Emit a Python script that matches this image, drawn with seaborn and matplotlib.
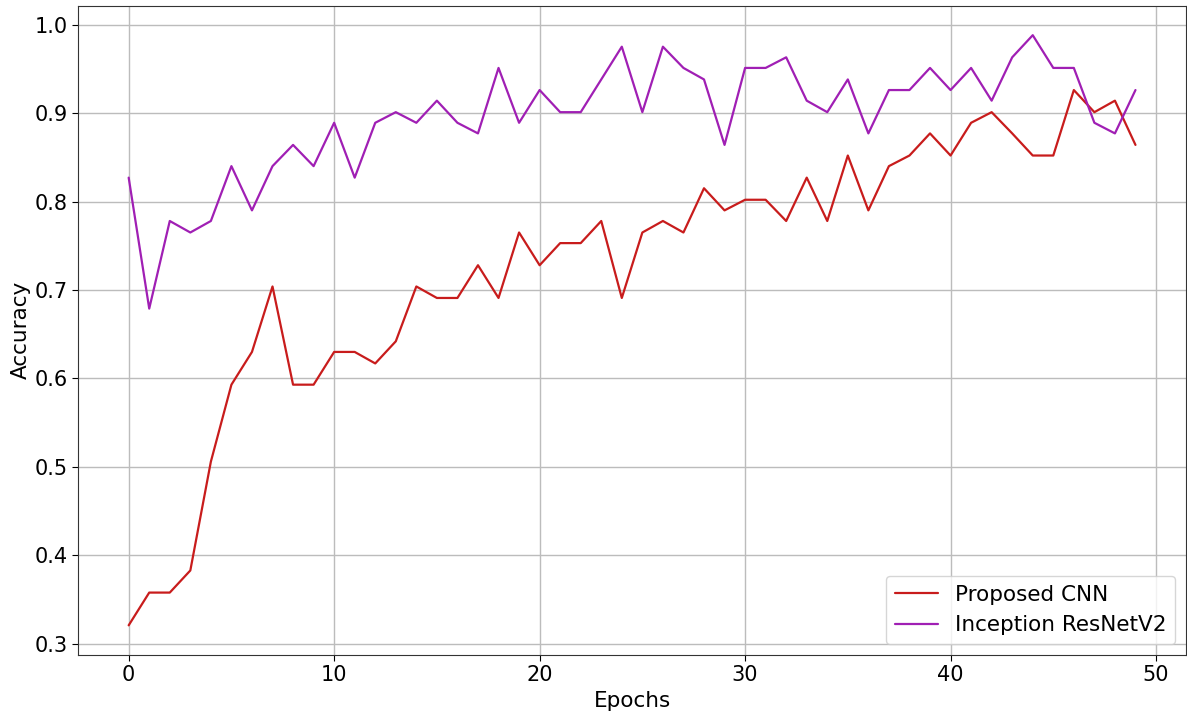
import numpy as np
import pandas as pd
import matplotlib
matplotlib.use("Agg")
import matplotlib.pyplot as plt
import seaborn as sns

epochs = list(range(50))
proposed_cnn = [0.321, 0.358, 0.358, 0.383, 0.506, 0.593, 0.630, 0.704, 0.593, 0.593,
                0.630, 0.630, 0.617, 0.642, 0.704, 0.691, 0.691, 0.728, 0.691, 0.765,
                0.728, 0.753, 0.753, 0.778, 0.691, 0.765, 0.778, 0.765, 0.815, 0.790,
                0.802, 0.802, 0.778, 0.827, 0.778, 0.852, 0.790, 0.840, 0.852, 0.877,
                0.852, 0.889, 0.901, 0.877, 0.852, 0.852, 0.926, 0.901, 0.914, 0.864]
inception_resnetv2 = [0.827, 0.679, 0.778, 0.765, 0.778, 0.840, 0.790, 0.840, 0.864, 0.840,
                      0.889, 0.827, 0.889, 0.901, 0.889, 0.914, 0.889, 0.877, 0.951, 0.889,
                      0.926, 0.901, 0.901, 0.938, 0.975, 0.901, 0.975, 0.951, 0.938, 0.864,
                      0.951, 0.951, 0.963, 0.914, 0.901, 0.938, 0.877, 0.926, 0.926, 0.951,
                      0.926, 0.951, 0.914, 0.963, 0.988, 0.951, 0.951, 0.889, 0.877, 0.926]
series_names = ["Proposed CNN", "Inception ResNetV2"]
colors = ["#c81c1c", "#a01fb4"]

df = pd.DataFrame({
    "Epochs": epochs * 2,
    "Accuracy": proposed_cnn + inception_resnetv2,
    "Model": [series_names[0]] * len(epochs) + [series_names[1]] * len(epochs),
})

sns.set_style("white")
plt.rcParams['font.family'] = ['DejaVu Sans']
plt.rcParams['text.color'] = 'black'

fig = plt.figure(figsize=(11.87, 7.11), dpi=100)
ax = fig.add_axes([0.066, 0.079, 0.933, 0.913])

sns.lineplot(data=df, x="Epochs", y="Accuracy", hue="Model", palette=colors,
             linewidth=1.6, ax=ax)

ax.set_xticks([0, 10, 20, 30, 40, 50])
ax.set_yticks([0.3, 0.4, 0.5, 0.6, 0.7, 0.8, 0.9, 1.0])
ax.set_yticklabels([f"{v:.1f}" for v in [0.3, 0.4, 0.5, 0.6, 0.7, 0.8, 0.9, 1.0]])
ax.tick_params(axis="both", labelsize=15, length=4, width=0.8, colors="black")
ax.tick_params(axis="both", which="both", bottom=True, left=True)
ax.set_xlabel("Epochs", fontsize=15.5, color="black")
ax.set_ylabel("Accuracy", fontsize=15.5, color="black", labelpad=3)
ax.grid(True, color="#bcbcbc", linewidth=1.0)
for s in ax.spines.values():
    s.set_color("#333333")
    s.set_linewidth(0.8)

leg = ax.legend(loc="lower right", fontsize=15.5, frameon=True, title=None)
leg.get_frame().set_edgecolor("#cccccc")
for t in leg.get_texts():
    t.set_color("black")
for line in leg.get_lines():
    line.set_linewidth(1.6)

fig.savefig("out.png", dpi=100)
